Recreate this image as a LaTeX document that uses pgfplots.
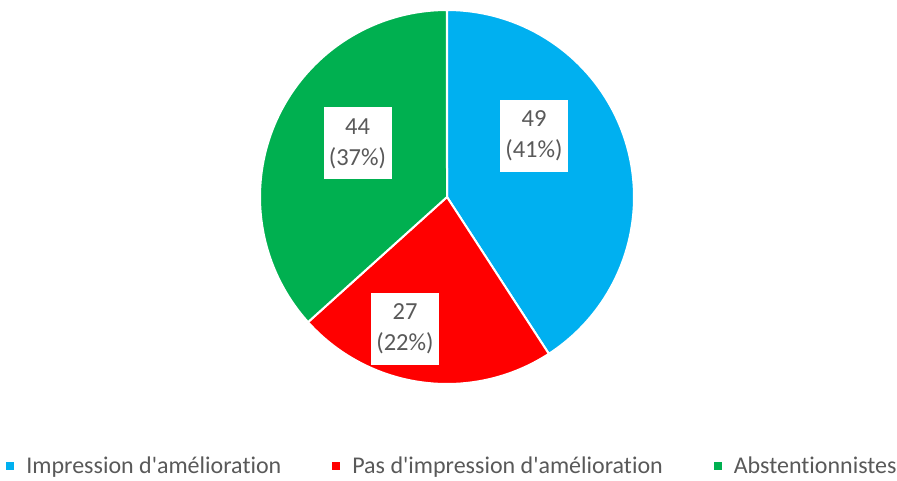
\documentclass[border=0pt]{standalone}
\usepackage{fontspec}
\setmainfont{Carlito}[Ligatures={TeXOff,NoCommon}]
\usepackage{pgfplots}
\usepackage{pgfplotstable}
\pgfplotsset{compat=1.18}
\definecolor{cblue}{HTML}{00B0F0}
\definecolor{cred}{HTML}{FF0000}
\definecolor{cgreen}{HTML}{00B050}
\definecolor{ctext}{HTML}{595959}
\pgfplotstableread{
label value
Impression 49
Pas 27
Abst 44
}\piedata
\begin{document}
\begin{tikzpicture}
\path[use as bounding box] (0,0) rectangle (897pt,480pt);
\pgfplotstablegetelem{0}{value}\of\piedata\let\va\pgfplotsretval
\pgfplotstablegetelem{1}{value}\of\piedata\let\vb\pgfplotsretval
\pgfplotstablegetelem{2}{value}\of\piedata\let\vc\pgfplotsretval
\pgfmathsetmacro{\tot}{\va+\vb+\vc}
\pgfmathsetmacro{\aA}{90}
\pgfmathsetmacro{\aB}{90-360*(\va/\tot)}
\pgfmathsetmacro{\aC}{\aB-360*(\vb/\tot)}
\pgfmathsetmacro{\aD}{\aC-360*(\vc/\tot)}
\begin{axis}[
  scale only axis, width=897pt, height=480pt,
  xmin=0, xmax=897, ymin=0, ymax=480,
  hide axis, clip=false,
  legend columns=3,
  legend cell align=left,
  legend style={at={(axis cs:451.5,14)}, anchor=center, draw=none, fill=none,
    font=\fontsize{24}{28}\selectfont, text=ctext, inner sep=0pt,
    /tikz/every odd column/.append style={column sep=8pt},
    /tikz/every even column/.append style={column sep=47pt}},
  legend image code/.code={\fill[#1] (0pt,-5pt) rectangle (10pt,5pt);},
]
\addplot[fill=cblue, draw=white, line width=2pt, domain=\aB:\aA, samples=80]
  ({447+187*cos(x)},{283+187*sin(x)}) -- (axis cs:447,283) -- cycle;
\addlegendentry{Impression d'amélioration}
\addplot[fill=cred, draw=white, line width=2pt, domain=\aC:\aB, samples=60]
  ({447+187*cos(x)},{283+187*sin(x)}) -- (axis cs:447,283) -- cycle;
\addlegendentry{Pas d'impression d'amélioration}
\addplot[fill=cgreen, draw=white, line width=2pt, domain=\aD:\aC, samples=80]
  ({447+187*cos(x)},{283+187*sin(x)}) -- (axis cs:447,283) -- cycle;
\addlegendentry{Abstentionnistes}
\tikzset{lbl/.style={fill=white, text=ctext, align=center, inner sep=0pt,
  minimum width=68pt, minimum height=72pt, font=\fontsize{24.5}{31}\selectfont}}
\node[lbl] at (axis cs:534,344) {\va\\(41\%)};
\node[lbl] at (axis cs:405,151.5) {\vb\\(22\%)};
\node[lbl] at (axis cs:357.5,336.5) {\vc\\(37\%)};
\end{axis}
\end{tikzpicture}
\end{document}
